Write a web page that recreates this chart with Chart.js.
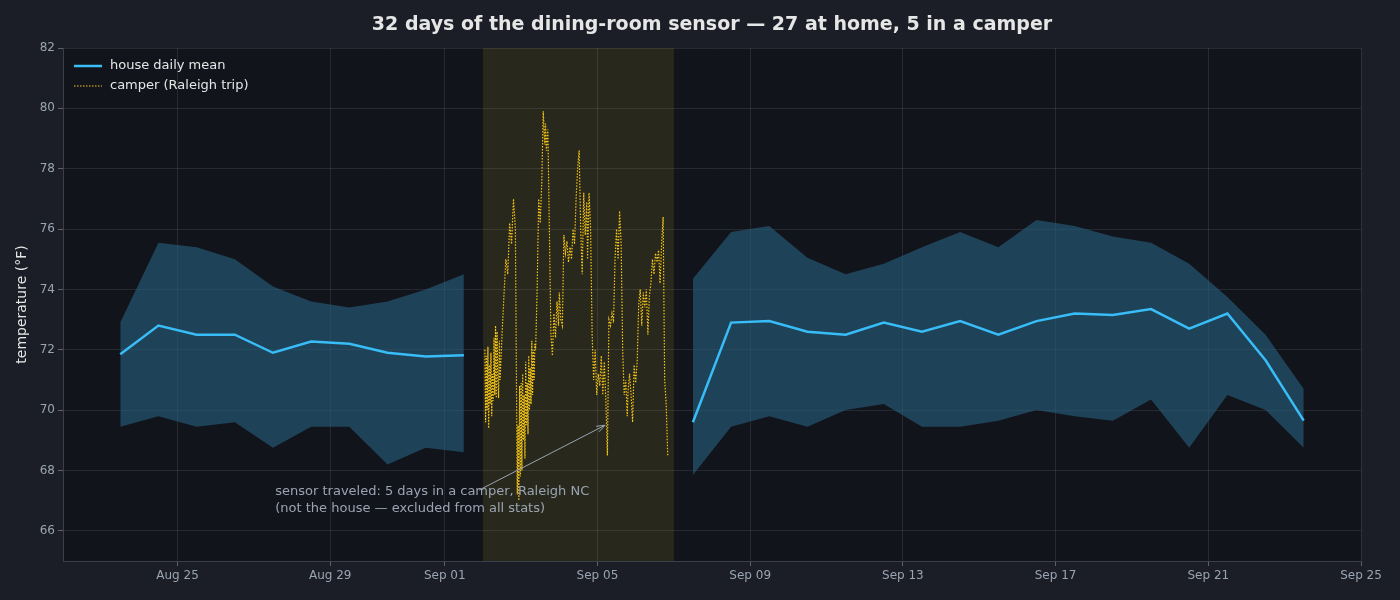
<!DOCTYPE html>
<html><head><meta charset="utf-8">
<script src="https://cdn.jsdelivr.net/npm/chart.js@4"></script>
<style>html,body{margin:0;background:#1b1e26;}#w{width:1400px;height:600px;}</style>
</head><body><div id="w"><canvas id="c"></canvas></div>
<script>
// x values are days since Aug 22 00:00
const tickDays = [3,7,10,14,18,22,26,30,34];
const tickLabels = ['Aug 25','Aug 29','Sep 01','Sep 05','Sep 09','Sep 13','Sep 17','Sep 21','Sep 25'];
const days1 = [1.5,2.5,3.5,4.5,5.5,6.5,7.5,8.5,9.5,10.5];
const mean1 = [71.85,72.8,72.5,72.5,71.9,72.27,72.2,71.9,71.78,71.82];
const upper1 = [72.9,75.55,75.4,75.0,74.1,73.6,73.4,73.6,74.0,74.5];
const lower1 = [69.45,69.8,69.45,69.6,68.75,69.45,69.45,68.2,68.75,68.6];
const days2 = [16.5,17.5,18.5,19.5,20.5,21.5,22.5,23.5,24.5,25.5,26.5,27.5,28.5,29.5,30.5,31.5,32.5];
const mean2 = [69.6,72.9,72.95,72.6,72.5,72.9,72.6,72.95,72.5,72.95,73.2,73.15,73.35,72.7,73.2,71.65,69.65];
const upper2 = [74.35,75.9,76.1,75.05,74.5,74.85,75.4,75.9,75.4,76.3,76.1,75.75,75.55,74.85,73.75,72.5,70.7];
const lower2 = [67.85,69.45,69.8,69.45,70.0,70.2,69.45,69.45,69.65,70.0,69.8,69.65,70.35,68.75,70.5,70.0,68.75];
const camperDays = [11.05,11.07,11.09,11.11,11.13,11.15,11.17,11.19,11.21,11.23,11.25,11.27,11.29,11.31,11.33,11.35,11.37,11.39,11.41,11.43,11.45,11.5,11.55,11.6,11.65,11.7,11.75,11.8,11.85,11.88,11.9,11.92,11.94,11.96,11.98,12.0,12.02,12.04,12.06,12.08,12.1,12.12,12.14,12.16,12.18,12.2,12.22,12.24,12.26,12.28,12.3,12.32,12.34,12.36,12.38,12.42,12.46,12.5,12.54,12.58,12.62,12.64,12.66,12.7,12.74,12.78,12.82,12.86,12.9,12.94,12.98,13.0,13.04,13.08,13.12,13.16,13.2,13.24,13.28,13.32,13.36,13.4,13.44,13.48,13.52,13.56,13.6,13.64,13.68,13.72,13.74,13.78,13.82,13.86,13.9,13.94,13.98,14.02,14.06,14.1,14.14,14.18,14.22,14.26,14.3,14.34,14.38,14.42,14.46,14.5,14.54,14.58,14.62,14.66,14.7,14.74,14.78,14.8,14.84,14.88,14.92,14.96,15.0,15.04,15.08,15.12,15.16,15.2,15.24,15.28,15.32,15.36,15.4,15.44,15.48,15.52,15.56,15.6,15.64,15.68,15.72,15.76,15.8,15.84,15.87,15.9,15.93,15.96];
const camperTemp = [72.0,69.6,71.8,70.0,72.1,69.4,71.5,70.2,71.9,69.8,71.2,70.3,72.4,70.5,72.8,70.4,72.6,71.0,70.4,72.3,71.0,72.5,73.8,75.0,74.5,76.2,75.5,77.0,76.0,70.5,67.2,69.5,67.0,70.8,67.8,70.9,68.0,71.2,69.0,70.5,68.4,71.6,69.5,70.9,69.2,71.8,70.0,71.4,70.2,72.3,70.5,72.0,71.0,72.2,72.0,74.0,77.0,76.2,77.5,79.9,78.8,79.5,78.6,79.3,76.0,72.5,71.8,73.2,72.4,73.6,72.8,73.9,73.0,72.8,75.8,75.2,75.6,74.9,75.4,75.0,76.0,75.5,77.0,78.0,78.6,76.0,74.5,77.2,75.8,76.9,75.0,77.2,76.0,72.5,71.0,72.0,70.5,71.2,70.8,71.8,70.5,71.6,70.3,68.5,73.0,72.8,73.2,72.9,75.0,76.0,75.0,76.6,75.5,72.0,70.5,71.0,69.8,70.6,71.2,70.5,69.6,71.5,70.9,71.6,73.5,74.0,72.8,73.9,73.4,74.0,72.5,73.8,74.2,75.0,74.5,75.2,74.9,75.3,74.2,75.5,76.4,71.0,70.2,68.5];
const xy = (xs, ys) => xs.map((x, i) => ({x, y: ys[i]}));

const bgPlugin = {
  id: 'bg',
  beforeDraw(ch) {
    const {ctx, chartArea: a, scales: {x, y}} = ch;
    ctx.save();
    ctx.fillStyle = '#12141c';
    ctx.fillRect(a.left, a.top, a.right - a.left, a.bottom - a.top);
    ctx.fillStyle = 'rgba(95,88,30,0.3)';
    ctx.fillRect(x.getPixelForValue(11), a.top, x.getPixelForValue(16) - x.getPixelForValue(11), a.bottom - a.top);
    ctx.restore();
  },
  afterDraw(ch) {
    const {ctx, chartArea: a, scales: {x, y}} = ch;
    ctx.save();
    ctx.fillStyle = '#e6e6e6';
    ctx.font = 'bold 19px "DejaVu Sans"'; ctx.textAlign = 'center'; ctx.textBaseline = 'middle';
    ctx.fillText('32 days of the dining-room sensor — 27 at home, 5 in a camper', (a.left + a.right) / 2, 25);
    ctx.textAlign = 'left';
    // annotation
    const x1 = x.getPixelForValue(10.9), y1 = y.getPixelForValue(67.35);
    const x2 = x.getPixelForValue(14.2), y2 = y.getPixelForValue(69.5);
    ctx.strokeStyle = '#9aa4b2'; ctx.fillStyle = '#9aa4b2'; ctx.lineWidth = 1;
    ctx.beginPath(); ctx.moveTo(x1, y1); ctx.lineTo(x2, y2); ctx.stroke();
    const ang = Math.atan2(y2 - y1, x2 - x1);
    ctx.beginPath(); ctx.moveTo(x2, y2);
    ctx.lineTo(x2 - 9 * Math.cos(ang - 0.35), y2 - 9 * Math.sin(ang - 0.35));
    ctx.moveTo(x2, y2);
    ctx.lineTo(x2 - 9 * Math.cos(ang + 0.35), y2 - 9 * Math.sin(ang + 0.35));
    ctx.stroke();
    ctx.font = '13px "DejaVu Sans"';
    const tx = x.getPixelForValue(5.56);
    ctx.fillText('sensor traveled: 5 days in a camper, Raleigh NC', tx, 492);
    ctx.fillText('(not the house — excluded from all stats)', tx, 509);
    // legend
    const lx = a.left + 11, ly = a.top + 18;
    ctx.strokeStyle = '#38bdf8'; ctx.lineWidth = 2.5;
    ctx.beginPath(); ctx.moveTo(lx, ly); ctx.lineTo(lx + 28, ly); ctx.stroke();
    ctx.strokeStyle = '#f5c518'; ctx.lineWidth = 1.2; ctx.setLineDash([1.5, 1.5]);
    ctx.beginPath(); ctx.moveTo(lx, ly + 20); ctx.lineTo(lx + 28, ly + 20); ctx.stroke();
    ctx.setLineDash([]);
    ctx.fillStyle = '#e6e6e6'; ctx.font = '13px "DejaVu Sans"';
    ctx.fillText('house daily mean', lx + 36, ly);
    ctx.fillText('camper (Raleigh trip)', lx + 36, ly + 20);
    ctx.restore();
  }
};

const band = 'rgba(38,95,125,0.62)';
new Chart(document.getElementById('c'), {
  type: 'line',
  data: { datasets: [
    {data: xy(days1, upper1), order: 5, borderWidth: 0, pointRadius: 0, fill: '+1', backgroundColor: band},
    {data: xy(days1, lower1), order: 5, borderWidth: 0, pointRadius: 0, fill: false},
    {data: xy(days2, upper2), order: 5, borderWidth: 0, pointRadius: 0, fill: '+1', backgroundColor: band},
    {data: xy(days2, lower2), order: 5, borderWidth: 0, pointRadius: 0, fill: false},
    {data: xy(camperDays, camperTemp), order: 2, borderColor: '#f5c518', borderWidth: 1.2, borderDash: [1.5, 1.5], pointRadius: 0, fill: false},
    {data: xy(days1, mean1), order: 0, borderColor: '#38bdf8', borderWidth: 2.5, pointRadius: 0, fill: false},
    {data: xy(days2, mean2), order: 0, borderColor: '#38bdf8', borderWidth: 2.5, pointRadius: 0, fill: false}
  ]},
  options: {
    responsive: true, maintainAspectRatio: false, animation: false,
    layout: {padding: {left: 10, right: 39, top: 48, bottom: 11}},
    plugins: { legend: {display: false}, tooltip: {enabled: false}, title: {display: false} },
    scales: {
      x: {type: 'linear', min: 0, max: 34,
        afterBuildTicks: s => { s.ticks = tickDays.map(v => ({value: v})); },
        ticks: {color: '#9aa4b2', font: {family: 'DejaVu Sans', size: 12}, maxRotation: 0,
          callback: v => tickLabels[tickDays.indexOf(v)]},
        grid: {color: 'rgba(255,255,255,0.09)', tickLength: 5, tickColor: 'rgba(255,255,255,0.3)'},
        border: {color: '#3a3f4a'},
        afterFit: s => { s.height = 28; }},
      y: {min: 65, max: 82,
        afterBuildTicks: s => { s.ticks = [66,68,70,72,74,76,78,80,82].map(v => ({value: v})); },
        afterFit: s => { s.width = 53; },
        title: {display: true, text: 'temperature (°F)', color: '#e6e6e6', font: {family: 'DejaVu Sans', size: 14}},
        ticks: {color: '#9aa4b2', font: {family: 'DejaVu Sans', size: 12}},
        grid: {color: 'rgba(255,255,255,0.09)', tickLength: 5, tickColor: 'rgba(255,255,255,0.3)'},
        border: {color: '#3a3f4a'}}
    }
  },
  plugins: [bgPlugin]
});
</script></body></html>
